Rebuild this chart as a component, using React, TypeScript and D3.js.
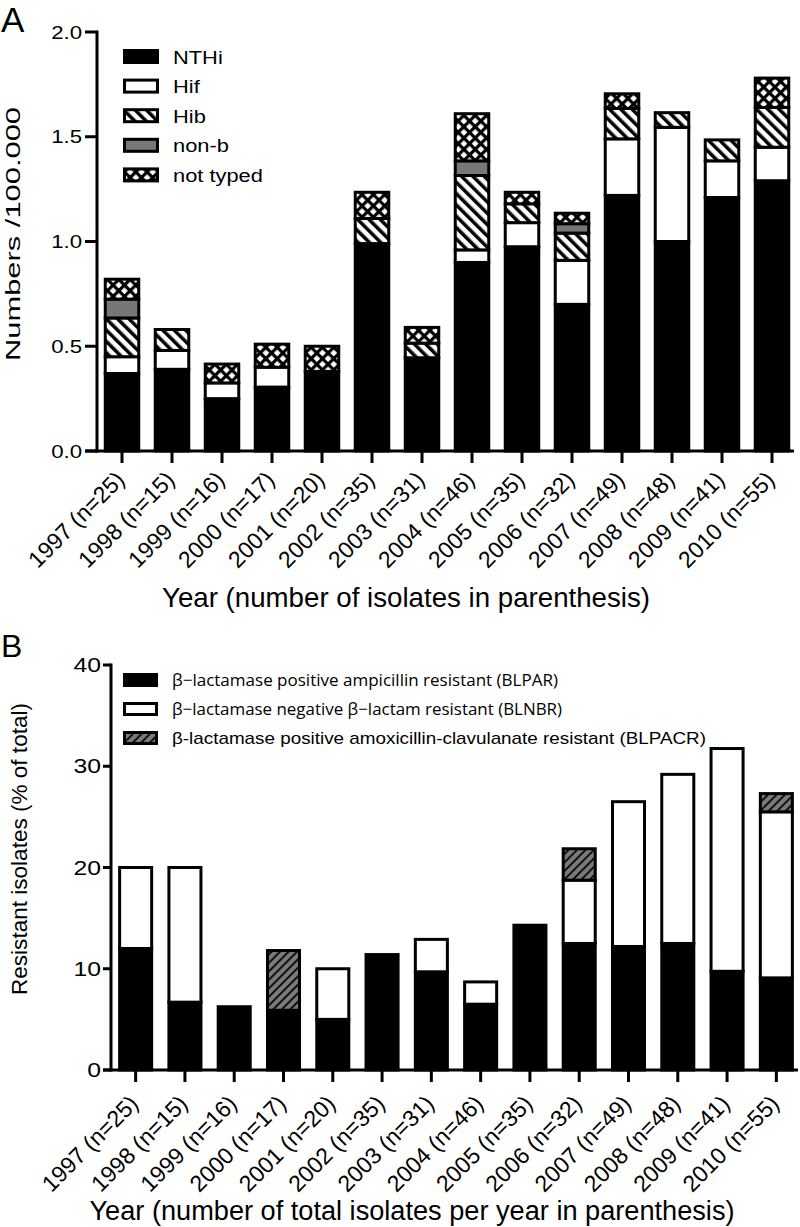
import React from 'react';
import * as d3 from 'd3';

const years = ['1997', '1998', '1999', '2000', '2001', '2002', '2003', '2004', '2005', '2006', '2007', '2008', '2009', '2010'];
const isolates = [25, 15, 16, 17, 20, 35, 31, 46, 35, 32, 49, 48, 41, 55];

// Panel A (numbers / 100.000)
const serotypes = ['NTHi', 'Hif', 'Hib', 'non-b', 'not typed'];
const nthi = [0.37, 0.39, 0.25, 0.305, 0.38, 0.99, 0.445, 0.9, 0.975, 0.7, 1.22, 1.0, 1.21, 1.29];
const hif = [0.08, 0.09, 0.075, 0.095, 0, 0, 0, 0.06, 0.115, 0.21, 0.27, 0.545, 0.175, 0.16];
const hib = [0.185, 0.1, 0, 0, 0, 0.12, 0.07, 0.355, 0.09, 0.13, 0.145, 0.07, 0.1, 0.19];
const nonb = [0.09, 0, 0, 0, 0, 0, 0, 0.07, 0, 0.045, 0, 0, 0, 0];
const notTyped = [0.095, 0, 0.09, 0.11, 0.12, 0.125, 0.075, 0.225, 0.055, 0.05, 0.07, 0, 0, 0.14];
const ticksA = [0, 0.5, 1.0, 1.5, 2.0];

// Panel B (resistant isolates, % of total)
const resistTypes = ['BLPAR', 'BLNBR', 'BLPACR'];
const blpar = [12.0, 6.7, 6.25, 5.9, 5.0, 11.4, 9.7, 6.5, 14.3, 12.5, 12.2, 12.5, 9.75, 9.1];
const blnbr = [8.0, 13.3, 0, 0, 5.0, 0, 3.2, 2.2, 0, 6.25, 14.3, 16.7, 22.0, 16.4];
const blpacr = [0, 0, 0, 5.9, 0, 0, 0, 0, 0, 3.1, 0, 0, 0, 1.8];
const ticksB = [0, 10, 20, 30, 40];

const legendB = [
  'β−lactamase positive ampicillin resistant (BLPAR)',
  'β−lactamase negative β−lactam resistant (BLNBR)',
  'β-lactamase positive amoxicillin-clavulanate resistant (BLPACR)',
];

const FONT = 'Liberation Sans, Arial, Helvetica, sans-serif';
const fillsA = ['#000', '#fff', 'url(#hib)', '#777', 'url(#nt)'];
const fillsB = ['#000', '#fff', 'url(#acr)'];

function labels() {
  return years.map((y, i) => `${y} (n=${isolates[i]})`);
}

function Panel({
  seriesNames, series, fills, domainMax, ticks, tickFmt, x0, x1, yTop, yBottom, pad,
  labelDy, tickLabelSize, tickLabelSx, tickLabelRight, tickLen,
}: any) {
  const x = d3.scaleBand().domain(years).range([x0, x1]).paddingInner(pad).paddingOuter(pad / 2);
  const y = d3.scaleLinear().domain([0, domainMax]).range([yBottom, yTop]);
  const stack = d3.stack().keys(seriesNames)(
    years.map((yr, i) => {
      const o: any = { year: yr };
      seriesNames.forEach((k: string, j: number) => (o[k] = series[j][i]));
      return o;
    })
  );
  const labs = labels();
  return (
    <g>
      {stack.map((layer: any, j: number) =>
        layer.map((d: any, i: number) => {
          const h = y(d[0]) - y(d[1]);
          if (h <= 0.01) return null;
          return (
            <rect key={`${j}-${i}`} x={x(years[i])} y={y(d[1])} width={x.bandwidth()} height={h}
              fill={fills[j]} stroke="#000" strokeWidth={3} />
          );
        })
      )}
      {/* axes */}
      <line x1={x0} x2={x0} y1={y(domainMax) - 1.5} y2={yBottom + 1.5} stroke="#000" strokeWidth={3} />
      <line x1={x0 - tickLen} x2={x1 - 3} y1={yBottom} y2={yBottom} stroke="#000" strokeWidth={3} />
      {ticks.map((t: number) => (
        <g key={t}>
          <line x1={x0 - tickLen} x2={x0} y1={y(t)} y2={y(t)} stroke="#000" strokeWidth={3} />
          <text transform={`translate(${tickLabelRight},${y(t)}) scale(${tickLabelSx},1)`} dy="0.36em"
            textAnchor="end" fontSize={tickLabelSize} fontFamily={FONT}>{tickFmt(t)}</text>
        </g>
      ))}
      {years.map((yr, i) => {
        const cx = (x(yr) as number) + x.bandwidth() / 2;
        return (
          <g key={yr}>
            <line x1={cx} x2={cx} y1={yBottom} y2={yBottom + 12} stroke="#000" strokeWidth={3} />
            <text transform={`translate(${cx + 4},${yBottom + labelDy}) rotate(-45)`} textAnchor="end"
              fontSize={23} fontFamily={FONT}>{labs[i]}</text>
          </g>
        );
      })}
    </g>
  );
}

export default function App() {
  const seriesA = [nthi, hif, hib, nonb, notTyped];
  const seriesB = [blpar, blnbr, blpacr];
  return (
    <svg width={800} height={1227} style={{ position: 'absolute', left: 0, top: 0, background: '#fff' }}
      xmlns="http://www.w3.org/2000/svg">
      <defs>
        <pattern id="hib" patternUnits="userSpaceOnUse" width={8} height={8} patternTransform="rotate(-45)">
          <rect width={8} height={8} fill="#fff" />
          <rect width={3.5} height={8} fill="#000" />
        </pattern>
        <pattern id="nt" patternUnits="userSpaceOnUse" width={8} height={8} patternTransform="rotate(45)">
          <rect width={8} height={8} fill="#fff" />
          <rect width={3.2} height={8} fill="#000" />
          <rect width={8} height={3.2} fill="#000" />
        </pattern>
        <pattern id="acr" patternUnits="userSpaceOnUse" width={6} height={6} patternTransform="rotate(45)">
          <rect width={6} height={6} fill="#7a7a7a" />
          <rect width={2} height={6} fill="#111" />
        </pattern>
      </defs>
      <rect width={800} height={1227} fill="#fff" />

      {/* Panel A */}
      <text x={1} y={32} fontSize={35} fontFamily={FONT}>A</text>
      <Panel seriesNames={serotypes} series={seriesA} fills={fillsA} domainMax={2} ticks={ticksA}
        tickFmt={(t: number) => t.toFixed(1)} x0={97} x1={797} yTop={32} yBottom={451} pad={0.33}
        labelDy={30} tickLabelSize={18.5} tickLabelSx={1.2} tickLabelRight={82} tickLen={12} />
      <text transform="translate(20,234) rotate(-90)" textAnchor="middle" fontSize={21} fontFamily={FONT}
        textLength={254} lengthAdjust="spacingAndGlyphs">Numbers /100.000</text>
      <text x={406} y={607} textAnchor="middle" fontSize={27.5} fontFamily={FONT}
        textLength={488} lengthAdjust="spacingAndGlyphs">Year (number of isolates in parenthesis)</text>
      {serotypes.map((s, i) => {
        const cy = 56.5 + i * 29.6;
        return (
          <g key={s}>
            <rect x={124.5} y={cy - 6} width={33} height={12} fill={fillsA[i]} stroke="#000" strokeWidth={3} />
            <text transform={`translate(173,${cy + 7}) scale(1.15,1)`} fontSize={19} fontFamily={FONT}>{s}</text>
          </g>
        );
      })}

      {/* Panel B */}
      <text x={1} y={657} fontSize={32} fontFamily={FONT}>B</text>
      <Panel seriesNames={resistTypes} series={seriesB} fills={fillsB} domainMax={40} ticks={ticksB}
        tickFmt={(t: number) => String(t)} x0={111} x1={801} yTop={665} yBottom={1070} pad={0.35}
        labelDy={35} tickLabelSize={19.5} tickLabelSx={1.27} tickLabelRight={101} tickLen={8} />
      <text transform="translate(27,849) rotate(-90)" textAnchor="middle" fontSize={22.5} fontFamily={FONT}
        textLength={292} lengthAdjust="spacingAndGlyphs">Resistant isolates (% of total)</text>
      <text x={412} y={1220} textAnchor="middle" fontSize={27} fontFamily={FONT}
        textLength={645} lengthAdjust="spacingAndGlyphs">Year (number of total isolates per year in parenthesis)</text>
      {legendB.map((s, i) => {
        const cy = 680 + i * 29;
        const lens = [386, 390, 534];
        return (
          <g key={s}>
            <rect x={124.5} y={cy - 5.5} width={32} height={11} fill={fillsB[i]} stroke="#000" strokeWidth={3} />
            <text x={172} y={cy + 5.5} fontSize={17} fontFamily={i < 2 ? 'Open Sans, DejaVu Sans, sans-serif' : FONT}
              textLength={lens[i]} lengthAdjust="spacingAndGlyphs">{s}</text>
          </g>
        );
      })}
    </svg>
  );
}
